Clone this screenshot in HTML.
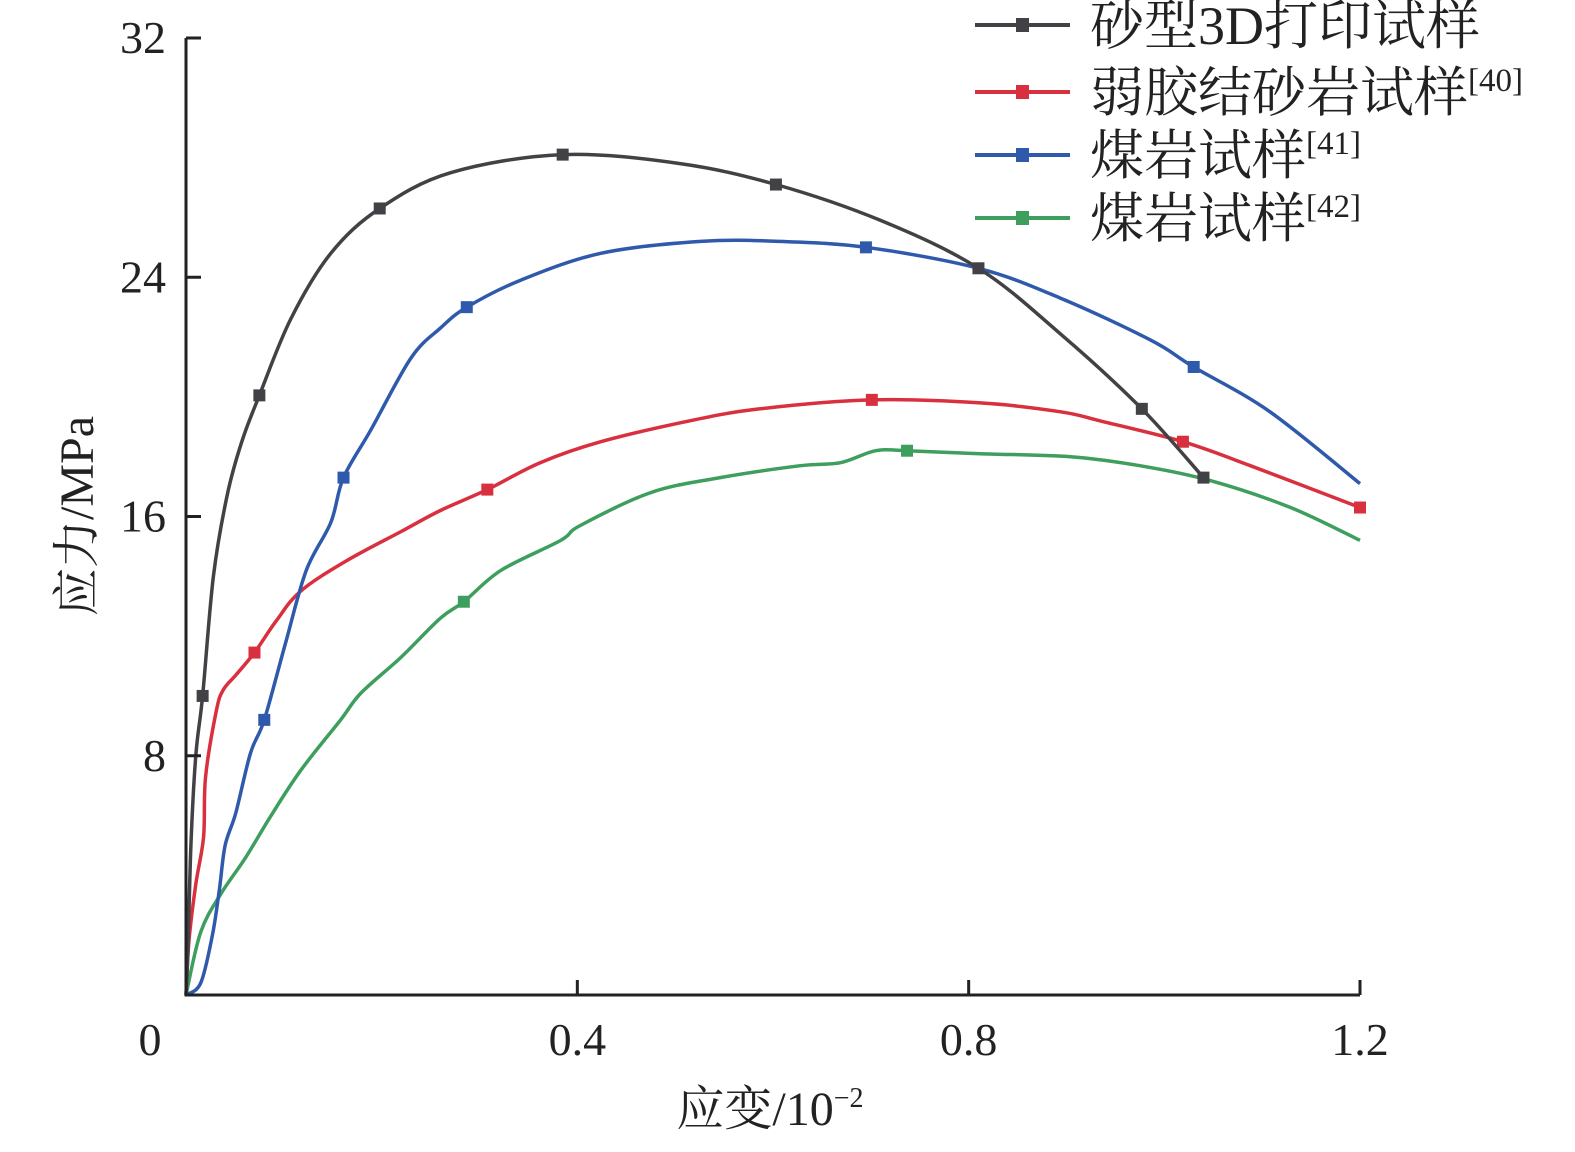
<!DOCTYPE html>
<html><head><meta charset="utf-8"><style>
body{margin:0;background:#fff}
svg text{font-family:"Liberation Serif","Noto Serif CJK SC",serif;fill:#222}
</style></head><body>
<svg id="c" width="1575" height="1147"></svg>
<script>
const seriesNames=["砂型3D打印试样","弱胶结砂岩试样","煤岩试样","煤岩试样"];
const seriesRefs=["","[40]","[41]","[42]"];
const colors=["#424246","#d9303f","#2f5aab","#3e9e5e"];
const blackX=[0,0.002,0.005,0.010,0.017,0.028,0.042,0.057,0.075,0.107,0.148,0.198,0.271,0.385,0.505,0.603,0.710,0.810,0.894,0.977,1.040];
const blackY=[0,1.5,5,8,10.0,14.0,16.7,18.5,20.05,22.6,24.8,26.3,27.5,28.1,27.8,27.1,25.9,24.3,22.1,19.6,17.3];
const redX=[0,0.003,0.010,0.018,0.020,0.031,0.038,0.051,0.070,0.092,0.117,0.163,0.220,0.260,0.308,0.362,0.424,0.515,0.587,0.701,0.812,0.894,0.934,1.019,1.088,1.200];
const redY=[0,1.8,3.7,5.3,7.3,9.5,10.2,10.7,11.45,12.5,13.5,14.5,15.5,16.2,16.9,17.8,18.5,19.2,19.6,19.9,19.8,19.5,19.2,18.5,17.7,16.3];
const blueX=[0,0.015,0.027,0.034,0.040,0.051,0.066,0.080,0.102,0.123,0.148,0.161,0.189,0.230,0.260,0.287,0.342,0.424,0.526,0.607,0.695,0.810,0.894,0.986,1.030,1.108,1.200];
const blueY=[0,0.4,2,3.5,5,6.1,8.1,9.2,11.8,14.2,15.8,17.3,18.9,21.3,22.3,23.0,23.9,24.8,25.2,25.2,25.0,24.3,23.3,21.9,21.0,19.5,17.1];
const greenX=[0,0.015,0.036,0.061,0.087,0.117,0.158,0.179,0.220,0.260,0.284,0.322,0.383,0.403,0.475,0.546,0.628,0.669,0.705,0.737,0.812,0.904,0.975,1.047,1.129,1.200];
const greenY=[0,2.1,3.4,4.6,6.0,7.5,9.2,10.1,11.3,12.6,13.15,14.2,15.2,15.7,16.8,17.3,17.7,17.8,18.2,18.2,18.1,18.0,17.7,17.2,16.3,15.2];
const markIdx=[[4,8,11,13,15,17,19,20],[8,14,19,23,25],[7,11,15,20,24],[10,19]];
const xTicks=[0,0.4,0.8,1.2];
const xTickLabels=["0","0.4","0.8","1.2"];
const yTicks=[0,8,16,24,32];
const yTickLabels=["","8","16","24","32"];

const X0=186,X1=1360,Y0=995,Y1=38;
const sx=v=>X0+v/1.2*(X1-X0);
const sy=v=>Y0-v/32*(Y0-Y1);
const svg=document.getElementById('c');
const NS="http://www.w3.org/2000/svg";
function mk(t,a){const e=document.createElementNS(NS,t);for(const k in a)e.setAttribute(k,a[k]);svg.appendChild(e);return e;}
function smooth(P){
  let d='M'+P[0][0].toFixed(1)+','+P[0][1].toFixed(1);
  for(let i=0;i<P.length-1;i++){
    const p0=P[i-1]||P[i],p1=P[i],p2=P[i+1],p3=P[i+2]||p2;
    const c1=[p1[0]+(p2[0]-p0[0])/6,p1[1]+(p2[1]-p0[1])/6];
    const c2=[p2[0]-(p3[0]-p1[0])/6,p2[1]-(p3[1]-p1[1])/6];
    d+=` C${c1[0].toFixed(1)},${c1[1].toFixed(1)} ${c2[0].toFixed(1)},${c2[1].toFixed(1)} ${p2[0].toFixed(1)},${p2[1].toFixed(1)}`;
  }
  return d;
}
const xs=[blackX,redX,blueX,greenX], ys=[blackY,redY,blueY,greenY];
const order=[3,1,2,0];
order.forEach(s=>{
  const P=xs[s].map((v,i)=>[sx(v),sy(ys[s][i])]);
  const p=mk('path',{d:smooth(P),fill:'none',stroke:colors[s],'stroke-width':3.5,'stroke-linejoin':'round'});
  
  
  markIdx[s].forEach(i=>{
    const r=mk('rect',{x:sx(xs[s][i])-6,y:sy(ys[s][i])-6,width:12,height:12,fill:colors[s]});
    
    
  });
});
const ax=mk('path',{d:`M${X0},${Y1} L${X0},${Y0} L${X1},${Y0}`,fill:'none',stroke:'#222','stroke-width':3});


yTicks.forEach((v,i)=>{
  const t=mk('line',{x1:X0,x2:X0+15,y1:sy(v),y2:sy(v),stroke:'#222','stroke-width':3});
  
  
  const l=mk('text',{x:X0-20,y:sy(v)+15,'text-anchor':'end','font-size':46});
  l.textContent=yTickLabels[i];
  
  
});
xTicks.forEach((v,i)=>{
  if(i>0){const t=mk('line',{x1:sx(v),x2:sx(v),y1:Y0,y2:Y0-15,stroke:'#222','stroke-width':3});
  
  }
  const l=mk('text',{x:i==0?150:sx(v),y:1055,'text-anchor':'middle','font-size':46});
  l.textContent=xTickLabels[i];
  
  
});
const xt=mk('text',{x:770,y:1125,'text-anchor':'middle','font-size':48});
xt.innerHTML='应变/10<tspan dy="-18" font-size="28">−2</tspan>';


const yt=mk('text',{x:0,y:0,'text-anchor':'middle','font-size':48,transform:'translate(93,516) rotate(-90)'});
yt.textContent='应力/MPa';


const ly=[25,92,155,218];
seriesNames.forEach((n,i)=>{
  const g=mk('line',{x1:975,x2:1070,y1:ly[i],y2:ly[i],stroke:colors[i],'stroke-width':4});
  
  
  const r=mk('rect',{x:1016,y:ly[i]-7,width:13,height:14,fill:colors[i]});
  
  
  const t=mk('text',{x:1090,y:ly[i]+19,'font-size':54});
  t.innerHTML=n+(seriesRefs[i]?'<tspan dy="-20" font-size="33">'+seriesRefs[i]+'</tspan>':'');
  
  
});
</script>
</body></html>
